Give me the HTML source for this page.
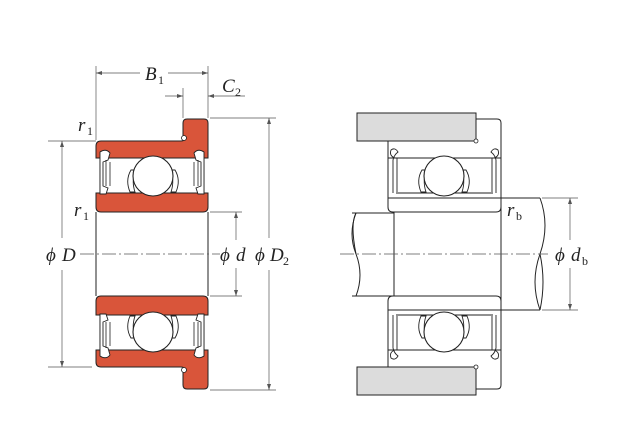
<!DOCTYPE html>
<html><head><meta charset="utf-8"><style>
html,body{margin:0;padding:0;background:#fff;}
svg{display:block;}
text{font-family:"Liberation Serif",serif;fill:#222;}
.i{font-style:italic;}
</style></head><body>
<svg width="640" height="440" viewBox="0 0 640 440" xmlns="http://www.w3.org/2000/svg">
<defs>
<g id="lb">
  <path d="M96,158 L96,146 Q96,141 101,141 L181,141 Q185,141 185,137 L183,136 L183,123 Q183,119 187,119 L204,119 Q208,119 208,123 L208,158 Z" fill="#d9553a" stroke="#222" stroke-width="1"/>
  <circle cx="184" cy="138" r="2.5" fill="#fff" stroke="#222" stroke-width="0.8"/>
  <path d="M96,193 L208,193 L208,207 Q208,212 203,212 L101,212 Q96,212 96,207 Z" fill="#d9553a" stroke="#222" stroke-width="1"/>
  <path d="M100,158 L204,158 L204,193 L100,193 Z" fill="#fff" stroke="#222" stroke-width="1"/>
  <path d="M100,152 Q106,148 110,153 L108,160 L103,162 L103,186 L108,188 L106,194 L100,194 Z" fill="#fff" stroke="#222" stroke-width="0.9"/>
  <path d="M106,160 L106,186 M110,162 L110,186" stroke="#222" stroke-width="0.8"/>
  <path d="M204,152 Q198,148 194,153 L196,160 L201,162 L201,186 L196,188 L198,194 L204,194 Z" fill="#fff" stroke="#222" stroke-width="0.9"/>
  <path d="M198,160 L198,186 M194,162 L194,186" stroke="#222" stroke-width="0.8"/>
  <path d="M131,170 Q125,180 130,192 L135,192 Q131,180 136,170 Z" fill="#fff" stroke="#222" stroke-width="0.9"/>
  <path d="M175,170 Q181,180 176,192 L171,192 Q175,180 170,170 Z" fill="#fff" stroke="#222" stroke-width="0.9"/>
  <circle cx="153" cy="176" r="20" fill="#fff" stroke="#222" stroke-width="1.1"/>
</g>
<g id="rb">
  <path d="M388,141 L476,141 L476,119 L497,119 Q501,119 501,123 L501,198 L388,198 Z" fill="#fff" stroke="#222" stroke-width="1"/>
  <path d="M388,198 L501,198 L501,207 Q501,212 496,212 L393,212 Q388,212 388,207 Z" fill="#fff" stroke="#222" stroke-width="1"/>
  <path d="M388,158 L501,158 M396,193 L493,193" stroke="#222" stroke-width="0.9" fill="none"/>
  <path d="M393,193 L393,160 Q394,155 398,152 Q395,147 391,150 Q389,156 395,158 M397,158 L397,192" stroke="#222" stroke-width="0.9" fill="none"/>
  <path d="M496,193 L496,160 Q495,155 491,152 Q494,147 498,150 Q500,156 494,158 M492,158 L492,192" stroke="#222" stroke-width="0.9" fill="none"/>
  <path d="M422,170 Q416,180 421,192 L426,192 Q422,180 427,170 Z" fill="#fff" stroke="#222" stroke-width="0.9"/>
  <path d="M466,170 Q472,180 467,192 L462,192 Q466,180 461,170 Z" fill="#fff" stroke="#222" stroke-width="0.9"/>
  <circle cx="444" cy="176" r="20" fill="#fff" stroke="#222" stroke-width="1.1"/>
  <rect x="357" y="113" width="119" height="28" fill="#dcdcdc" stroke="#222" stroke-width="1"/>
  <circle cx="476" cy="141" r="2" fill="#fff" stroke="#222" stroke-width="0.8"/>
</g>
</defs>
<use href="#lb"/>
<use href="#lb" transform="translate(0,508) scale(1,-1)"/>
<line x1="96" y1="212" x2="96" y2="296" stroke="#222"/>
<line x1="208" y1="212" x2="208" y2="296" stroke="#222"/>
<line x1="80" y1="254" x2="220" y2="254" stroke="#555" stroke-width="0.7" stroke-dasharray="14,3,2,3"/>

<g stroke="#555" stroke-width="0.7" fill="none">
  <line x1="96" y1="66" x2="96" y2="140"/>
  <line x1="208" y1="66" x2="208" y2="118"/>
  <line x1="183" y1="88" x2="183" y2="118"/>
  <line x1="96" y1="73" x2="140" y2="73"/><line x1="168" y1="73" x2="208" y2="73"/>
  <line x1="165" y1="96" x2="183" y2="96"/><line x1="208" y1="96" x2="245" y2="96"/>
  <line x1="48" y1="141" x2="96" y2="141"/><line x1="48" y1="367" x2="92" y2="367"/>
  <line x1="62" y1="141" x2="62" y2="238"/><line x1="62" y1="270" x2="62" y2="367"/>
  <line x1="210" y1="118" x2="276" y2="118"/><line x1="210" y1="390" x2="276" y2="390"/>
  <line x1="269" y1="118" x2="269" y2="238"/><line x1="269" y1="270" x2="269" y2="390"/>
  <line x1="210" y1="212" x2="242" y2="212"/><line x1="210" y1="296" x2="242" y2="296"/>
  <line x1="236" y1="212" x2="236" y2="240"/><line x1="236" y1="268" x2="236" y2="296"/>
</g>
<g fill="#555">
  <path d="M96,73 l6,-2 v4z"/><path d="M208,73 l-6,-2 v4z"/>
  <path d="M183,96 l-6,-2 v4z"/><path d="M208,96 l6,-2 v4z"/>
  <path d="M62,141 l-2,6 h4z"/><path d="M62,367 l-2,-6 h4z"/>
  <path d="M269,118 l-2,6 h4z"/><path d="M269,390 l-2,-6 h4z"/>
  <path d="M236,212 l-2,6 h4z"/><path d="M236,296 l-2,-6 h4z"/>
</g>
<text class="i" x="145" y="80" font-size="19">B</text><text x="158" y="84" font-size="12">1</text>
<text class="i" x="222" y="92" font-size="19">C</text><text x="235" y="96" font-size="12">2</text>
<text class="i" x="78" y="131" font-size="19">r</text><text x="87" y="135" font-size="12">1</text>
<text class="i" x="74" y="216" font-size="19">r</text><text x="83" y="220" font-size="12">1</text>
<text class="i" x="46" y="261" font-size="19">ϕ</text><text class="i" x="62" y="261" font-size="19">D</text>
<text class="i" x="220" y="261" font-size="19">ϕ</text><text class="i" x="236" y="261" font-size="19">d</text>
<text class="i" x="255" y="261" font-size="19">ϕ</text><text class="i" x="270" y="261" font-size="19">D</text><text x="283" y="265" font-size="12">2</text>

<path d="M501,198 L540,198 M501,310 L540,310 M501,198 L501,310" stroke="#222" fill="none"/>
<path d="M394,212 L394,296" stroke="#222" fill="none"/>
<path d="M352,213 L394,213 M352,296 L394,296" stroke="#222" fill="none"/>
<path d="M356,213 Q348,234 356,254 Q364,275 356,296" stroke="#222" fill="none"/>
<path d="M356,213 Q350,224 356,254" stroke="#222" fill="none"/>
<path d="M540,198 Q550,225 540,254 Q530,282 540,310" stroke="#222" fill="none"/>
<path d="M540,254 Q546,282 540,310" stroke="#222" fill="none"/>
<use href="#rb"/>
<use href="#rb" transform="translate(0,508) scale(1,-1)"/>
<line x1="340" y1="254" x2="548" y2="254" stroke="#555" stroke-width="0.7" stroke-dasharray="14,3,2,3"/>
<g stroke="#555" stroke-width="0.7">
  <line x1="542" y1="198" x2="578" y2="198"/><line x1="542" y1="310" x2="578" y2="310"/>
  <line x1="570" y1="198" x2="570" y2="240"/><line x1="570" y1="268" x2="570" y2="310"/>
</g>
<g fill="#555"><path d="M570,198 l-2,6 h4z"/><path d="M570,310 l-2,-6 h4z"/></g>
<text class="i" x="507" y="216" font-size="19">r</text><text x="516" y="220" font-size="12">b</text>
<text class="i" x="555" y="261" font-size="19">ϕ</text><text class="i" x="571" y="261" font-size="19">d</text><text x="582" y="265" font-size="12">b</text>
</svg>
</body></html>
